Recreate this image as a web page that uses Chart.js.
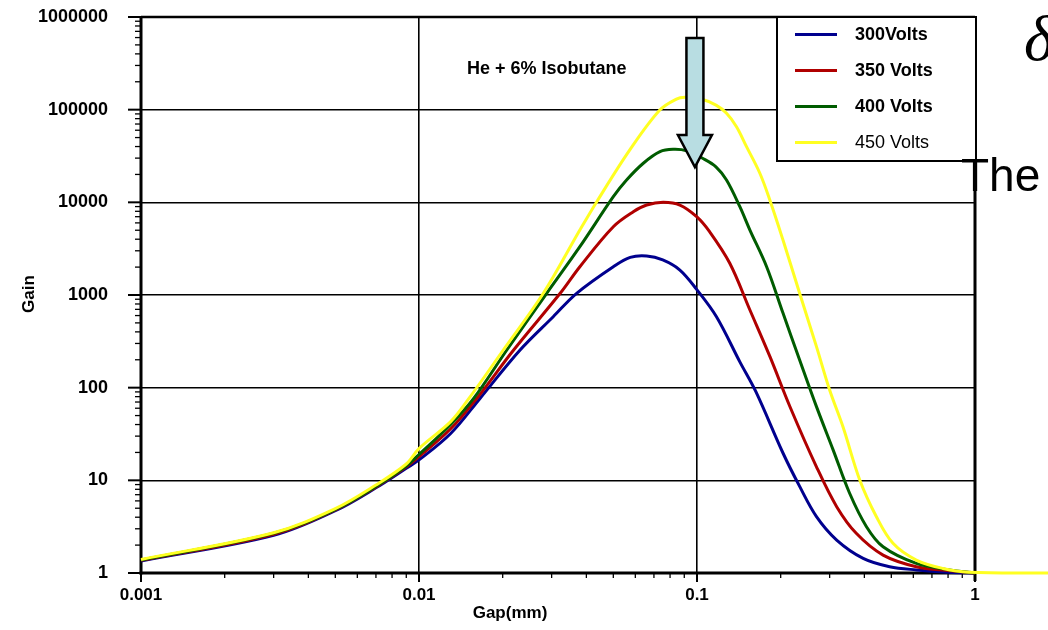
<!DOCTYPE html>
<html>
<head>
<meta charset="utf-8">
<script src="https://cdn.jsdelivr.net/npm/chart.js@4.4.1/dist/chart.umd.min.js"></script>
<style>
html,body{margin:0;padding:0;background:#fff;}
canvas{display:block;}
</style>
</head>
<body>
<canvas id="c" width="1048" height="630"></canvas>
<script>
// ---------- data ----------
const seriesLabels = ['300Volts', '350 Volts', '400 Volts', '450 Volts'];

const gap300  = [0.001,0.003,0.005,0.007,0.009,0.01,0.013,0.0166,0.0231,0.0304,0.0369,0.05,0.0575,0.0659,0.0753,0.0868,0.0997,0.1175,0.1426,0.163,0.204,0.234,0.269,0.318,0.396,0.493,0.615,0.8,1.0];
const gain300 = [1.35,2.55,4.7,8.3,13.5,16.6,32,77,255,583,1043,2020,2550,2640,2390,1860,1150,583,190,90,19.6,8.6,4.06,2.27,1.44,1.17,1.08,1.02,1.0];

const gap350  = [0.001,0.003,0.005,0.007,0.009,0.01,0.013,0.0161,0.0219,0.0322,0.0379,0.05,0.059,0.0659,0.0756,0.0868,0.0997,0.111,0.1312,0.155,0.183,0.216,0.269,0.318,0.374,0.467,0.615,0.811,1.0];
const gain350 = [1.37,2.62,4.8,8.5,14,18,36,76,255,1043,2020,5460,7920,9350,10000,9350,7000,4820,2200,689,216,62.3,14.0,5.2,2.68,1.56,1.17,1.06,1.0];

const gap400  = [0.001,0.003,0.005,0.007,0.009,0.01,0.013,0.0157,0.0207,0.0288,0.0379,0.05,0.0558,0.0641,0.0736,0.082,0.0918,0.1047,0.117,0.1277,0.1426,0.155,0.178,0.204,0.234,0.269,0.309,0.354,0.407,0.467,0.615,0.811,1.0];
const gain400 = [1.38,2.68,4.85,8.6,14.3,19,40,76,255,1043,3320,11500,17400,26400,35200,37300,36000,29900,24200,17400,8970,5020,2020,634,199,62.4,21.2,7.25,3.16,1.92,1.27,1.08,1.0];

const gap450  = [0.001,0.003,0.005,0.007,0.009,0.01,0.013,0.0151,0.0201,0.028,0.0379,0.0436,0.0574,0.0735,0.0843,0.0905,0.1021,0.117,0.1277,0.1387,0.1507,0.1683,0.1828,0.204,0.234,0.269,0.3,0.335,0.385,0.442,0.507,0.615,0.767,0.95,1.85];
const gain450 = [1.4,2.72,4.95,8.9,15,22,43,76,255,1043,5020,10160,37000,99000,130000,136000,132000,112000,91500,65500,39900,20600,10600,3890,1043,277,94.4,37.9,10.1,4.05,2.09,1.38,1.12,1.02,1.0];

const xMin = 0.001, xMax = 1;
const yMin = 1, yMax = 1000000;

// annotation anchors in data space
const noteText = 'He + 6% Isobutane';
const noteAt = {x: 0.0288, y: 275000};
const arrowAt = {x: 0.0983, top: 593000, head: 53200, tip: 24000};

// ---------- styling ----------
const F = '"Liberation Sans", Arial, Helvetica, sans-serif';
const colors = ['#00008E', '#B00000', '#005C00', '#FFFF22'];
const legendWeights = ['bold', 'bold', 'bold', 'normal'];

const toPts = (xs, ys) => xs.map((v, i) => ({x: v, y: ys[i]}));
const lg = v => Math.log10(v);
const isDecade = v => Math.abs(lg(v) - Math.round(lg(v))) < 1e-6;
const isStdTick = v => { const m = v / Math.pow(10, Math.floor(lg(v) + 1e-9)); return Math.abs(m - Math.round(m)) < 1e-6; };
const fmt = v => { const e = Math.round(lg(v)); return e >= 0 ? String(Math.pow(10, e)) : Math.pow(10, e).toFixed(-e); };

const decor = {
  id: 'decor',
  beforeDatasetsDraw(chart) {
    const {ctx, chartArea: a, scales: {x, y}} = chart;
    ctx.save();
    ctx.strokeStyle = '#000';
    x.ticks.forEach(t => {
      if (!isStdTick(t.value)) return;
      const p = x.getPixelForValue(t.value);
      const maj = isDecade(t.value);
      ctx.lineWidth = maj ? 2 : 1.3;
      ctx.beginPath(); ctx.moveTo(p, a.bottom); ctx.lineTo(p, a.bottom + (maj ? 9 : 5)); ctx.stroke();
    });
    y.ticks.forEach(t => {
      if (!isStdTick(t.value)) return;
      const p = y.getPixelForValue(t.value);
      const maj = isDecade(t.value);
      ctx.lineWidth = maj ? 2 : 1.3;
      ctx.beginPath(); ctx.moveTo(a.left, p); ctx.lineTo(a.left - (maj ? 13 : 6), p); ctx.stroke();
    });
    // frame
    ctx.lineWidth = 2.5;
    ctx.beginPath(); ctx.moveTo(a.left, a.top); ctx.lineTo(a.right, a.top); ctx.stroke();
    ctx.lineWidth = 3;
    ctx.beginPath(); ctx.moveTo(a.left, a.top - 1); ctx.lineTo(a.left, a.bottom + 1.5); ctx.stroke();
    ctx.beginPath(); ctx.moveTo(a.left - 1.5, a.bottom); ctx.lineTo(a.right, a.bottom); ctx.stroke();
    ctx.beginPath(); ctx.moveTo(a.right, a.top); ctx.lineTo(a.right, a.bottom + 8); ctx.stroke();
    ctx.restore();
  },
  afterDatasetsDraw(chart) {
    const {ctx, chartArea: a, scales: {x, y}} = chart;
    ctx.save();
    // note text
    ctx.fillStyle = '#000';
    ctx.font = 'bold 18px ' + F;
    ctx.textAlign = 'center'; ctx.textBaseline = 'middle';
    ctx.fillText(noteText, x.getPixelForValue(noteAt.x), y.getPixelForValue(noteAt.y));

    // arrow
    const cx = x.getPixelForValue(arrowAt.x);
    const yT = y.getPixelForValue(arrowAt.top), yB = y.getPixelForValue(arrowAt.head), yP = y.getPixelForValue(arrowAt.tip);
    ctx.beginPath();
    ctx.moveTo(cx - 8.5, yT); ctx.lineTo(cx + 8.5, yT); ctx.lineTo(cx + 8.5, yB);
    ctx.lineTo(cx + 17, yB); ctx.lineTo(cx, yP); ctx.lineTo(cx - 17, yB);
    ctx.lineTo(cx - 8.5, yB); ctx.closePath();
    ctx.fillStyle = '#B8DDE2'; ctx.fill();
    ctx.lineWidth = 2.5; ctx.strokeStyle = '#000'; ctx.lineJoin = 'miter'; ctx.stroke();

    // legend
    const lw = 199, lh = 144, lx = a.right - lw + 1, ly = a.top;
    ctx.fillStyle = '#fff'; ctx.fillRect(lx, ly, lw, lh);
    ctx.lineWidth = 2; ctx.strokeStyle = '#000'; ctx.strokeRect(lx, ly, lw, lh);
    chart.data.datasets.forEach((d, i) => {
      const yy = ly + 17.5 + i * 36;
      ctx.strokeStyle = d.borderColor; ctx.lineWidth = 3;
      ctx.beginPath(); ctx.moveTo(lx + 18, yy); ctx.lineTo(lx + 60, yy); ctx.stroke();
      ctx.fillStyle = '#000';
      ctx.font = legendWeights[i] + ' 18px ' + F;
      ctx.textAlign = 'left'; ctx.textBaseline = 'middle';
      ctx.fillText(d.label, lx + 78, yy + 1);
    });

    // axis titles
    ctx.fillStyle = '#000';
    ctx.font = 'bold 17px ' + F;
    ctx.textAlign = 'center'; ctx.textBaseline = 'middle';
    ctx.fillText('Gap(mm)', 510, 613);
    ctx.save();
    ctx.translate(29, 294); ctx.rotate(-Math.PI / 2);
    ctx.fillText('Gain', 0, 0);
    ctx.restore();

    // slide text partly visible on the right
    ctx.textAlign = 'left'; ctx.textBaseline = 'alphabetic';
    ctx.font = 'italic 64px "Liberation Serif", "Times New Roman", serif';
    ctx.fillText('δ', 1024, 60);
    ctx.font = '46px ' + F;
    ctx.fillText('The', 961, 191);
    ctx.restore();
  }
};

const gap = [gap300, gap350, gap400, gap450];
const gain = [gain300, gain350, gain400, gain450];
const drawOrder = [3, 2, 1, 0];

new Chart(document.getElementById('c'), {
  type: 'line',
  data: {
    datasets: seriesLabels.map((lab, i) => ({
      label: lab,
      data: toPts(gap[i], gain[i]),
      borderColor: colors[i],
      backgroundColor: colors[i],
      borderWidth: 3,
      pointRadius: 0,
      fill: false,
      clip: false,
      order: drawOrder[i],
      tension: 0.35
    }))
  },
  options: {
    responsive: false,
    animation: false,
    devicePixelRatio: 1,
    layout: {padding: {top: 17, right: 73, left: 0, bottom: 0}},
    plugins: {legend: {display: false}, tooltip: {enabled: false}},
    scales: {
      x: {
        type: 'logarithmic',
        min: xMin, max: xMax,
        afterFit: s => { s.height = 57; s.paddingLeft = 0; s.paddingRight = 0; },
        border: {display: false},
        grid: {
          drawTicks: false,
          lineWidth: 1.6,
          color: c => (c.tick && isDecade(c.tick.value)) ? '#000' : 'rgba(0,0,0,0)'
        },
        ticks: {
          autoSkip: false, maxRotation: 0, padding: 12,
          color: '#000',
          font: {family: F, size: 17, weight: 'bold'},
          callback: v => isDecade(v) ? fmt(v) : ''
        }
      },
      y: {
        type: 'logarithmic',
        min: yMin, max: yMax,
        afterFit: s => { s.width = 141; s.paddingTop = 0; s.paddingBottom = 0; },
        border: {display: false},
        grid: {
          drawTicks: false,
          lineWidth: 1.6,
          color: c => (c.tick && isDecade(c.tick.value)) ? '#000' : 'rgba(0,0,0,0)'
        },
        ticks: {
          autoSkip: false, padding: 33,
          color: '#000',
          font: {family: F, size: 18, weight: 'bold'},
          callback: v => isDecade(v) ? fmt(v) : ''
        }
      }
    }
  },
  plugins: [decor]
});
</script>
</body>
</html>
